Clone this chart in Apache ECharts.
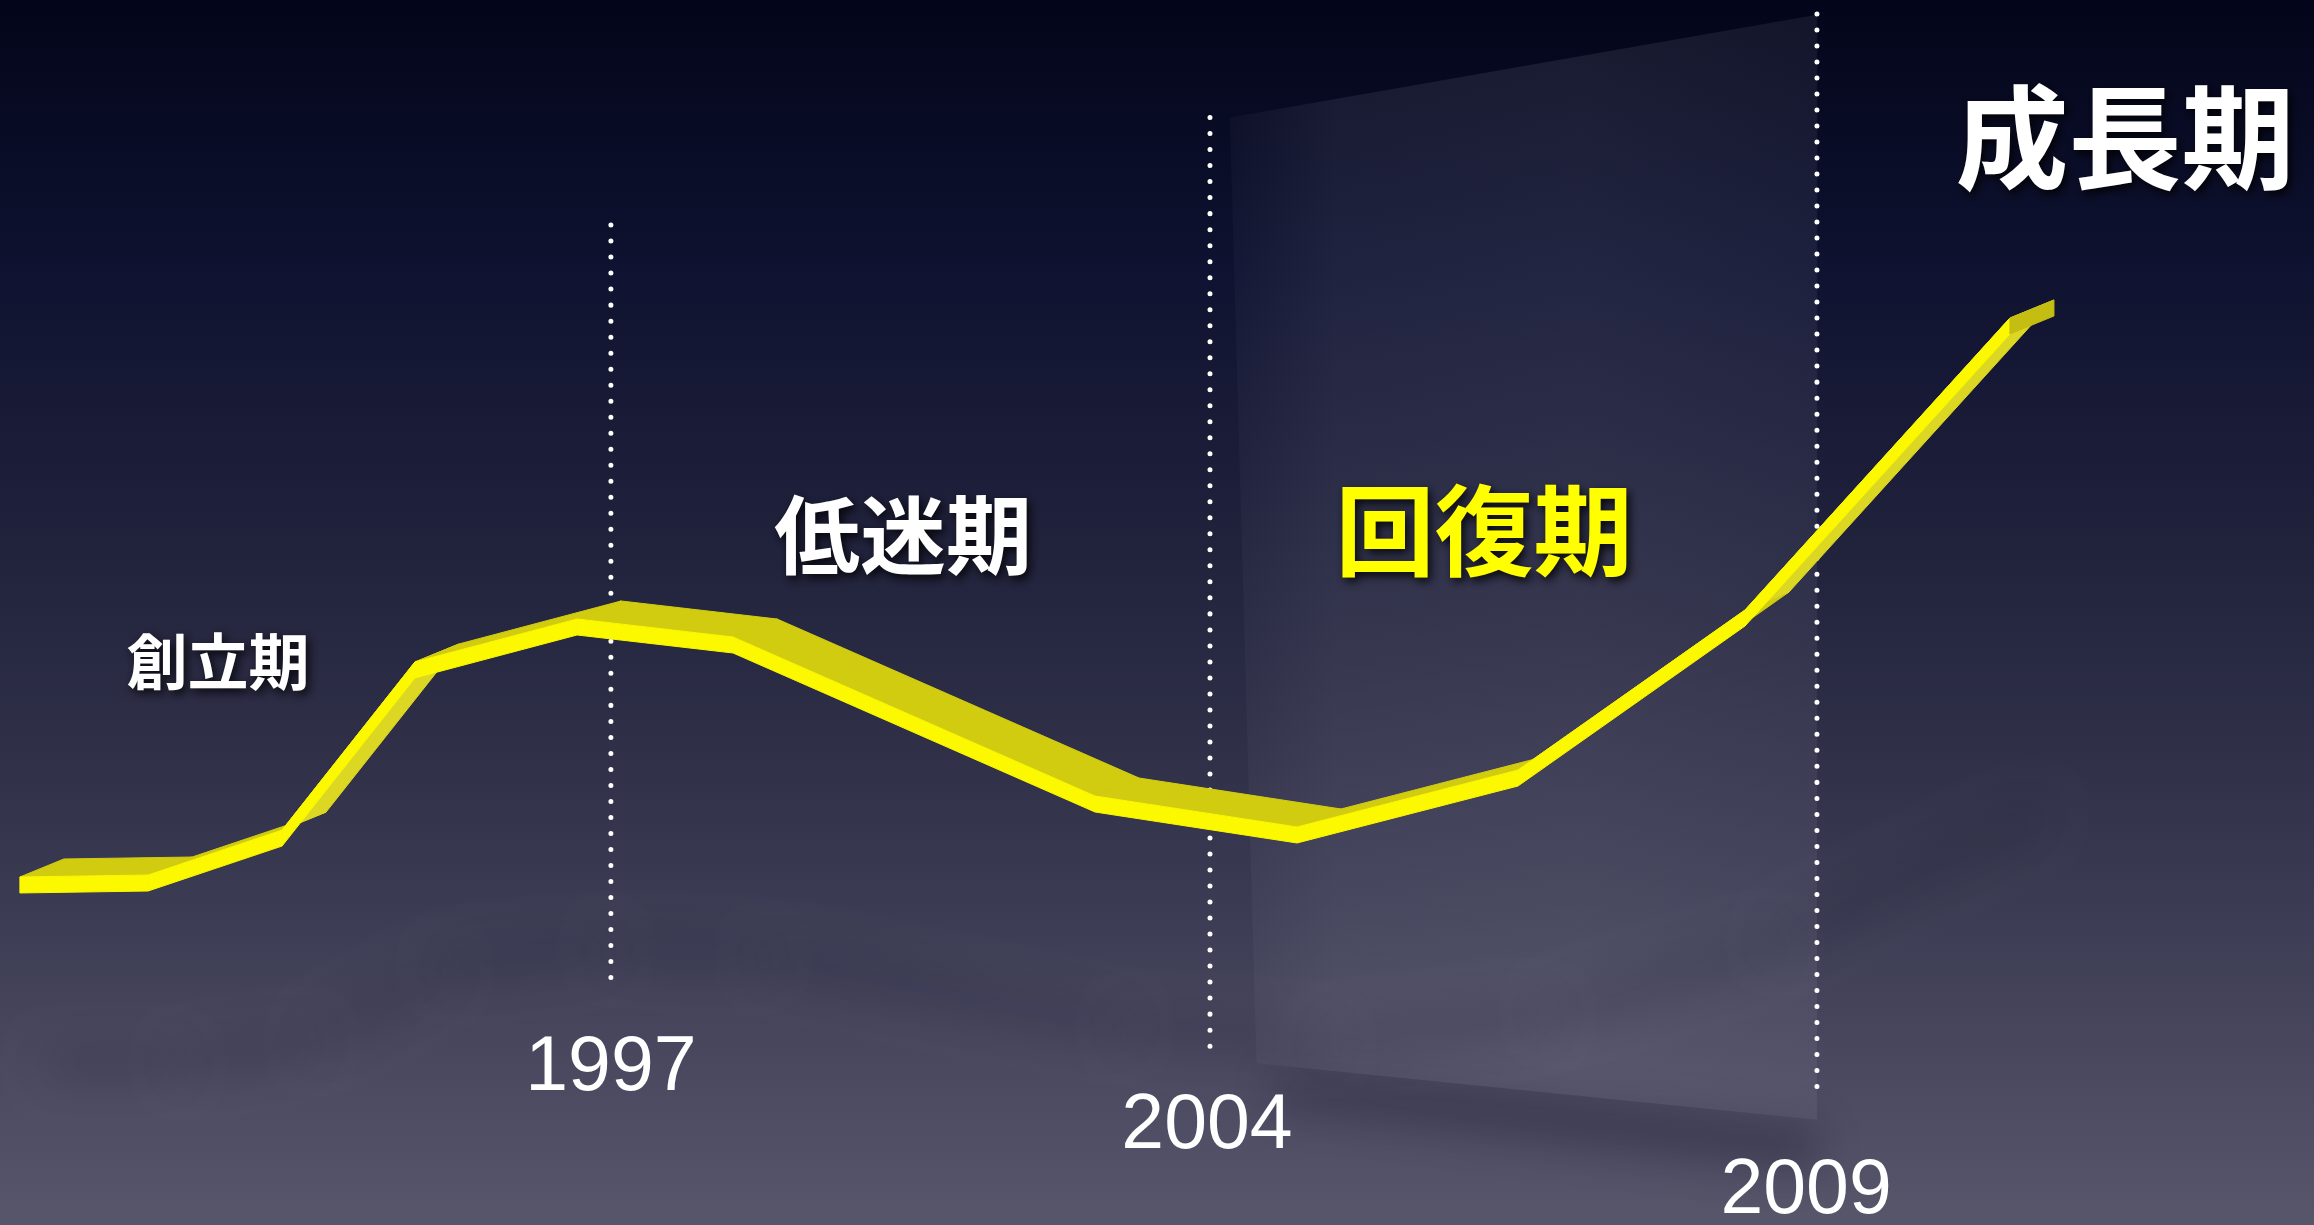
<!DOCTYPE html>
<html><head><meta charset="utf-8">
<script src="https://cdn.jsdelivr.net/npm/echarts@6/dist/echarts.min.js"></script>
<style>html,body{margin:0;padding:0;background:#1a1a2e;overflow:hidden}#c{width:2314px;height:1225px}</style>
</head><body><div id="c"></div>
<script>
// ---- data (position units 0-100 across the slide, value units 0-100 upward) ----
const curveX = [0.86, 6.40, 12.19, 17.93, 24.94, 31.68, 47.32, 56.05, 65.60, 75.41, 86.86];
const curveY = [28.41, 28.57, 32.24, 45.96, 49.47, 48.00, 35.02, 32.49, 37.14, 50.20, 74.04];

const yearLabels = ['1997', '2004', '2009'];
const yearLineX = [26.40, 52.29, 78.52];
const yearLineTop = [82.0, 90.6, 99.0];
const yearLineBottom = [20.2, 14.6, 11.3];
const yearLabelX = [26.40, 52.16, 78.05];
const yearLabelY = [12.75, 8.00, 2.70];

const phaseLabels = ['創立期', '低迷期', '回復期', '成長期'];
const phaseX = [9.42, 39.02, 64.13, 91.83];
const phaseY = [45.96, 56.33, 56.73, 88.80];

const panelX = [53.15, 78.52, 78.52, 54.30];
const panelY = [90.4, 98.8, 8.6, 13.2];

// ---- styles ----
const phaseFontSize = [61, 86, 99, 113];
const phaseColor = ['#ffffff', '#ffffff', '#ffff00', '#ffffff'];
const EX = 44, EY = -18, H = 16; // ribbon extrusion (px)

const segments = curveX.slice(0, -1).map((x, i) => [x, curveY[i], curveX[i + 1], curveY[i + 1]]);
const lastSeg = segments.length - 1;

function segPts(api) {
  return [api.coord([api.value(0), api.value(1)]), api.coord([api.value(2), api.value(3)])];
}

function ribbonTop(params, api) {
  const [p, q] = segPts(api);
  const slope = Math.abs((q[1] - p[1]) / (q[0] - p[0]));
  const c = slope > 1 ? '#dcd722' : '#d2cc10';
  return {
    type: 'polygon',
    shape: { points: [p, q, [q[0] + EX, q[1] + EY], [p[0] + EX, p[1] + EY]] },
    style: { fill: c, stroke: c, lineWidth: 1 }
  };
}

function ribbonFront(params, api) {
  const [p, q] = segPts(api);
  const children = [{
    type: 'polygon',
    shape: { points: [p, q, [q[0], q[1] + H], [p[0], p[1] + H]] },
    style: { fill: '#fbf800', stroke: '#fbf800', lineWidth: 1 }
  }];
  if (params.dataIndex === lastSeg) {
    children.push({
      type: 'polygon',
      shape: { points: [q, [q[0] + EX, q[1] + EY], [q[0] + EX, q[1] + EY + H], [q[0], q[1] + H]] },
      style: { fill: '#c4be12', stroke: '#c4be12', lineWidth: 1 }
    });
  }
  return { type: 'group', children };
}

const OFF = 4000;
function ribbonShadow(params, api) {
  const [p, q] = segPts(api);
  const proj = (pt, dy) => [pt[0] + 30, 670 + 0.45 * (pt[1] + dy) - OFF];
  return {
    type: 'polygon',
    shape: { points: [proj(p, EY), proj(q, EY), proj(q, H), proj(p, H)] },
    style: { fill: '#000', shadowColor: 'rgba(10,10,30,0.26)', shadowBlur: 45, shadowOffsetY: OFF }
  };
}

function panelPts(api) {
  const pts = [];
  for (let i = 0; i < 4; i++) pts.push(api.coord([api.value(2 * i), api.value(2 * i + 1)]));
  return pts;
}

function panelItem(params, api) {
  const pts = panelPts(api);
  const bl = pts[3], br = pts[2];
  return {
    type: 'group',
    children: [
      {
        type: 'polygon',
        shape: { points: [[bl[0] + 20, bl[1] + 10 - OFF], [br[0], br[1] + 10 - OFF], [br[0], br[1] + 50 - OFF], [bl[0] + 20, bl[1] + 40 - OFF]] },
        style: { fill: '#000', shadowColor: 'rgba(20,20,40,0.35)', shadowBlur: 40, shadowOffsetY: OFF }
      },
      {
        type: 'polygon',
        shape: { points: pts },
        style: {
          fill: new echarts.graphic.LinearGradient(0, 0, 1, 0, [
            { offset: 0, color: 'rgba(200,200,220,0.03)' },
            { offset: 0.18, color: 'rgba(200,200,220,0.09)' },
            { offset: 0.6, color: 'rgba(205,205,222,0.10)' },
            { offset: 1, color: 'rgba(200,200,220,0.08)' }
          ])
        }
      }
    ]
  };
}

function yearLineItem(params, api) {
  const a = api.coord([api.value(0), api.value(1)]);
  const b = api.coord([api.value(0), api.value(2)]);
  return {
    type: 'line',
    shape: { x1: a[0], y1: a[1], x2: b[0], y2: b[1] },
    style: { stroke: '#ffffff', lineWidth: 5, lineDash: [0.01, 16], lineCap: 'round' }
  };
}

const chart = echarts.init(document.getElementById('c'), null, { renderer: 'canvas' });
chart.setOption({
  animation: false,
  backgroundColor: new echarts.graphic.LinearGradient(0, 0, 0, 1, [
    { offset: 0, color: '#03051a' },
    { offset: 0.22, color: '#0f1230' },
    { offset: 0.5, color: '#25263f' },
    { offset: 0.75, color: '#3c3c54' },
    { offset: 1, color: '#58566b' }
  ]),
  grid: { left: 0, right: 0, top: 0, bottom: 0 },
  xAxis: { type: 'value', min: 0, max: 100, show: false },
  yAxis: { type: 'value', min: 0, max: 100, show: false },
  series: [
    {
      type: 'custom', z: 1, silent: true, renderItem: panelItem,
      data: [[panelX[0], panelY[0], panelX[1], panelY[1], panelX[2], panelY[2], panelX[3], panelY[3]]]
    },
    { type: 'custom', z: 2, silent: true, renderItem: ribbonShadow, data: segments },
    {
      type: 'custom', z: 3, silent: true, renderItem: yearLineItem,
      data: yearLineX.map((x, i) => [x, yearLineBottom[i], yearLineTop[i]])
    },
    { type: 'custom', z: 4, silent: true, renderItem: ribbonTop, data: segments },
    { type: 'custom', z: 5, silent: true, renderItem: ribbonFront, data: segments },
    {
      type: 'scatter', z: 6, silent: true, symbolSize: 0, itemStyle: { opacity: 1 },
      data: yearLabels.map((t, i) => ({ name: t, value: [yearLabelX[i], yearLabelY[i]] })),
      label: {
        show: true, position: 'inside', formatter: '{b}', color: '#ffffff',
        fontFamily: 'Liberation Sans, Arial, sans-serif', fontSize: 77
      }
    },
    {
      type: 'scatter', z: 7, silent: true, symbolSize: 0, itemStyle: { opacity: 1 },
      data: phaseLabels.map((t, i) => ({
        name: t, value: [phaseX[i], phaseY[i]],
        label: { fontSize: phaseFontSize[i], color: phaseColor[i] }
      })),
      label: {
        show: true, position: 'inside', formatter: '{b}',
        fontFamily: '"Noto Sans CJK JP", sans-serif', fontWeight: 'bold',
        textShadowColor: 'rgba(0,0,0,0.85)', textShadowBlur: 10,
        textShadowOffsetX: 3, textShadowOffsetY: 4
      }
    }
  ]
});
</script></body></html>
